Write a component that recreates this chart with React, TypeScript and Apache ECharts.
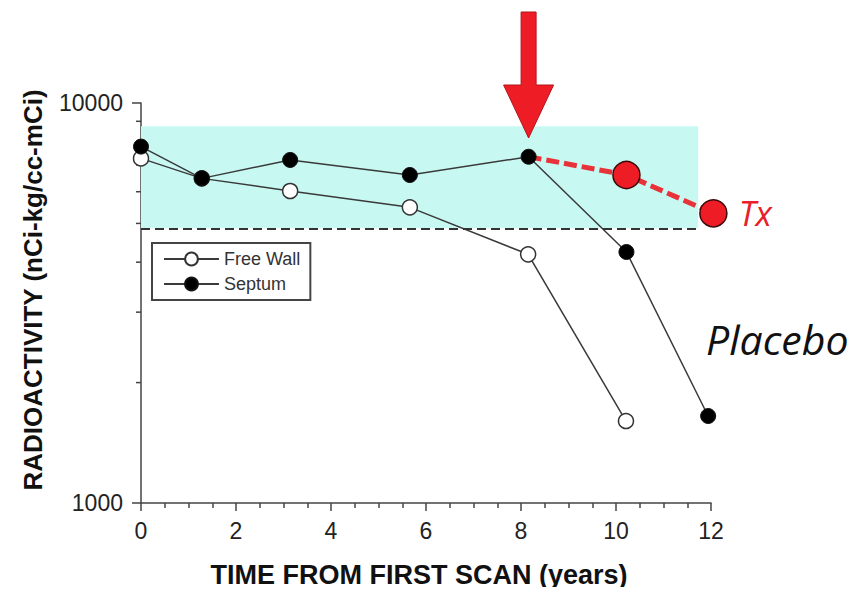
import React, { useEffect, useRef } from "react";
import * as echarts from "echarts";

const FONT = "'Liberation Sans', Arial, Helvetica, sans-serif";

// Time (years) and radioactivity values (nCi-kg/cc-mCi)
const freeWallTimes = [0, 1.28, 3.14, 5.66, 8.15, 10.21];
const freeWallValues = [7270, 6480, 6026, 5485, 4185, 1603];
const septumTimes = [0, 1.28, 3.14, 5.66, 8.16, 10.22, 11.94];
const septumValues = [7780, 6480, 7205, 6607, 7340, 4242, 1650];
const txTimes = [8.16, 10.22, 12.05];
const txValues = [7340, 6607, 5300];

// Normal range band
const normalLow = 4860;
const normalHigh = 8750;
const normalEndTime = 11.73;

// Treatment arrow tip
const arrowTip = [8.16, 8175];

// Axis
const xTicks = [0, 2, 4, 6, 8, 10, 12];
const yMinorTicks = [2000, 3000, 4000, 5000, 6000, 7000, 8000, 9000];

export default function App() {
  const ref = useRef<HTMLDivElement>(null);
  useEffect(() => {
    if (!ref.current) return;
    const chart = echarts.init(ref.current, null, { renderer: "svg" });
    const zip = (xs: number[], ys: number[]) => xs.map((x, i) => [x, ys[i]]);
    const option: any = {
      animation: false,
      backgroundColor: "#ffffff",
      grid: { left: 141, right: 147, top: 103, bottom: 92, containLabel: false },
      legend: {
        data: ["Free Wall", "Septum"],
        orient: "vertical",
        left: 152,
        top: 243,
        borderColor: "#444",
        borderWidth: 2,
        padding: [7, 10, 7, 11],
        itemWidth: 55,
        itemHeight: 16,
        itemGap: 7,
        textStyle: { fontSize: 18, color: "#333", fontFamily: FONT },
      },
      xAxis: {
        type: "value",
        min: 0,
        max: 12,
        interval: 2,
        name: "TIME FROM FIRST SCAN (years)",
        nameLocation: "middle",
        nameGap: 58,
        nameTextStyle: { fontSize: 27, fontWeight: "bold", color: "#111", fontFamily: FONT, padding: [0, 14, 0, 0] },
        axisLine: { lineStyle: { color: "#444", width: 1.5 } },
        axisTick: { length: 8, lineStyle: { color: "#444", width: 1.5 } },
        minorTick: { show: true, splitNumber: 4, length: 5, lineStyle: { color: "#444", width: 1.5 } },
        splitLine: { show: false },
        axisLabel: { fontSize: 23, color: "#222", margin: 16, fontFamily: FONT, formatter: (v: number) => (xTicks.includes(v) ? String(v) : "") },
      },
      yAxis: {
        type: "log",
        logBase: 10,
        min: 1000,
        max: 10000,
        name: "RADIOACTIVITY (nCi-kg/cc-mCi)",
        nameLocation: "middle",
        nameGap: 95,
        nameTextStyle: { fontSize: 26, fontWeight: "bold", color: "#111", fontFamily: FONT, padding: [0, 0, 0, 26] },
        axisLine: { show: true, lineStyle: { color: "#444", width: 1.5 } },
        axisTick: { show: true, length: 9, lineStyle: { color: "#444", width: 1.5 } },
        splitLine: { show: false },
        axisLabel: { fontSize: 23, color: "#222", margin: 18, fontFamily: FONT, formatter: (v: number) => String(Math.round(v)) },
      },
      graphic: [
        {
          type: "text",
          left: 706,
          top: 318,
          style: { text: "Placebo", fontSize: 41, fontStyle: "italic", fontFamily: "'Open Sans', 'Noto Sans', sans-serif", fill: "#111" },
        },
      ],
      series: [
        {
          name: "Normal range",
          type: "line",
          data: [],
          silent: true,
          markArea: {
            silent: true,
            itemStyle: { color: "#c8f8f2" },
            data: [[{ coord: [0, normalHigh] }, { coord: [normalEndTime, normalLow] }]],
          },
          markLine: {
            silent: true,
            symbol: "none",
            label: { show: false },
            lineStyle: { color: "#333", width: 2, type: [9, 5] },
            data: [[{ coord: [0, normalLow] }, { coord: [normalEndTime, normalLow] }]],
          },
        },
        {
          name: "Minor Y ticks",
          type: "custom",
          silent: true,
          clip: false,
          data: yMinorTicks.map((v) => [0, v]),
          renderItem: (params: any, api: any) => {
            const p = api.coord([api.value(0), api.value(1)]);
            return {
              type: "line",
              shape: { x1: p[0] - 5, y1: p[1], x2: p[0], y2: p[1] },
              style: { stroke: "#444", lineWidth: 1.5 },
            };
          },
        },
        {
          name: "Tx",
          type: "line",
          clip: false,
          z: 1,
          data: zip(txTimes, txValues).map((d, i) => ({
            value: d,
            symbol: i === 0 ? "none" : "circle",
            label:
              i === txTimes.length - 1
                ? {
                    show: true,
                    position: "right",
                    distance: 11,
                    formatter: "Tx",
                    fontSize: 34,
                    fontStyle: "italic",
                    color: "#e8202a",
                    fontFamily: "'Open Sans', 'Noto Sans', sans-serif",
                  }
                : { show: false },
          })),
          symbolSize: 27,
          lineStyle: { color: "#e8323a", width: 5, type: [13, 5] },
          itemStyle: { color: "#ee1c24", borderColor: "#3a0a0a", borderWidth: 1.5 },
        },
        {
          name: "Free Wall",
          type: "line",
          z: 3,
          data: zip(freeWallTimes, freeWallValues),
          symbol: "circle",
          symbolSize: 15,
          lineStyle: { color: "#3a3a3a", width: 1.5 },
          itemStyle: { color: "#ffffff", borderColor: "#333", borderWidth: 1.5 },
        },
        {
          name: "Septum",
          type: "line",
          z: 4,
          data: zip(septumTimes, septumValues),
          symbol: "circle",
          symbolSize: 15,
          lineStyle: { color: "#3a3a3a", width: 1.5 },
          itemStyle: { color: "#000000", borderColor: "#111", borderWidth: 1 },
        },
        {
          name: "Treatment",
          type: "custom",
          silent: true,
          clip: false,
          z: 5,
          data: [arrowTip],
          renderItem: (params: any, api: any) => {
            const p = api.coord([api.value(0), api.value(1)]);
            const x = p[0];
            const y = p[1];
            return {
              type: "polygon",
              shape: {
                points: [
                  [x, y],
                  [x + 25, y - 53],
                  [x + 7.5, y - 53],
                  [x + 7.5, y - 126],
                  [x - 7.5, y - 126],
                  [x - 7.5, y - 53],
                  [x - 25, y - 53],
                ],
              },
              style: { fill: "#ee1c24", stroke: "#b3141a", lineWidth: 1 },
            };
          },
        },
      ],
    };
    chart.setOption(option);
    return () => chart.dispose();
  }, []);
  return <div ref={ref} style={{ width: 858, height: 595, margin: -8 }} />;
}
